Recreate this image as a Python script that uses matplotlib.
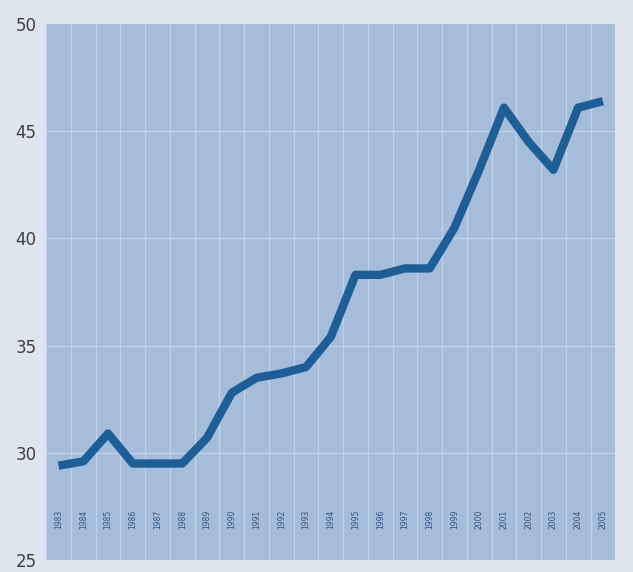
import matplotlib.pyplot as plt
import numpy as np

years = list(range(1983, 2006))
values = [29.4, 29.6, 30.9, 29.5, 29.5, 29.5, 30.7, 32.8, 33.5, 33.7, 34.0, 35.4,
          38.3, 38.3, 38.6, 38.6, 40.5, 43.2, 46.1, 44.5, 43.2, 46.1, 46.4]
y_ticks = [25, 30, 35, 40, 45, 50]

fig = plt.figure(figsize=(6.33, 5.72), dpi=100)
fig.patch.set_facecolor('#dfe5ef')
ax = fig.add_axes([0.073, 0.021, 0.899, 0.937])
ax.set_facecolor('#a5bcdb')

x = np.arange(len(years))

# year bands and horizontal grid
for b in np.arange(-0.5, len(years) + 0.5, 1):
    ax.axvline(b, color='#c0d2ea', lw=1.0, zorder=1)
for t in y_ticks[1:-1]:
    ax.axhline(t, color='#c0d2ea', lw=1.0, zorder=1)

ax.plot(x, values, color='#1c5e95', lw=6, solid_joinstyle='round',
        solid_capstyle='butt', zorder=3)

for i, yr in enumerate(years):
    ax.text(i, 26.9, str(yr), rotation=90, ha='center', va='center',
            fontsize=5.5, color='#34557d', zorder=2)

ax.set_xlim(-0.5, len(years) - 0.5)
ax.set_ylim(25, 50)
ax.set_xticks([])
ax.set_yticks(y_ticks)
ax.set_yticklabels([str(t) for t in y_ticks], fontsize=12, color='#3a3f48')
ax.tick_params(axis='y', length=0, pad=7)
for s in ax.spines.values():
    s.set_visible(False)

fig.savefig('out.png', dpi=100, facecolor=fig.get_facecolor())
